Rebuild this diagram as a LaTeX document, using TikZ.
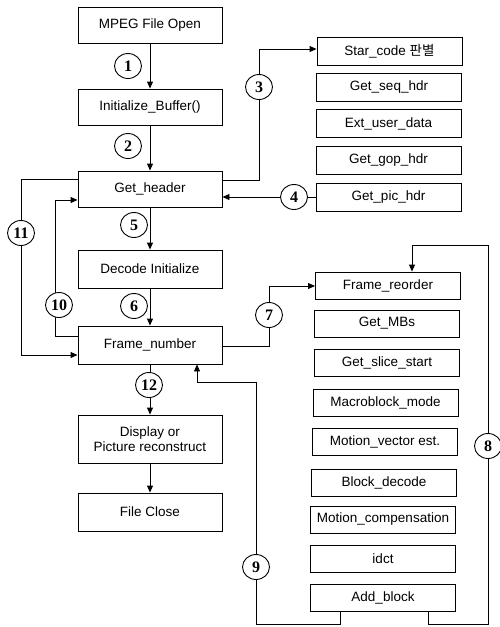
\documentclass[tikz,border=0pt]{standalone}
\usepackage{fontspec}
\setmainfont{Liberation Sans}
\newfontfamily\krfont{Noto Sans CJK KR}
\newfontfamily\numfont{Liberation Serif}
\usetikzlibrary{arrows.meta,shapes.geometric}
\begin{document}
\begin{tikzpicture}[x=1pt,y=-1pt,
  box/.style={draw,line width=0.9pt,minimum width=144pt,minimum height=36pt,inner sep=0pt,font=\fontsize{13.5}{15.5}\selectfont,align=center},
  sbox/.style={draw,line width=0.9pt,minimum width=145pt,minimum height=28pt,inner sep=0pt,font=\fontsize{13.5}{15.5}\selectfont},
  num/.style={draw,ellipse,fill=white,line width=0.9pt,minimum width=27pt,minimum height=25pt,inner sep=0pt,font=\numfont\bfseries\fontsize{16}{16}\selectfont},
  arr/.style={line width=0.9pt,-{Triangle[length=7pt,width=6pt]}}]
\useasboundingbox (0,0) rectangle (499,627);
% left column
\node[box] (open) at (150,25) {MPEG File Open};
\node[box] (init) at (150,107) {Initialize\_Buffer()};
\node[box] (hdr) at (150,189) {Get\_header};
\node[box,minimum height=38pt] (dinit) at (150,269) {Decode Initialize};
\node[box,minimum height=38pt] (fnum) at (150,345) {Frame\_number};
\node[box,minimum height=48pt] (disp) at (150,439) {Display or\\Picture reconstruct};
\node[box,minimum height=38pt] (close) at (150,512) {File Close};
% right group 1
\node[sbox] (star) at (389.5,51) {Star\_code {\krfont 판별}};
\node[sbox] (seq) at (389,87) {Get\_seq\_hdr};
\node[sbox] (ext) at (388.5,123.5) {Ext\_user\_data};
\node[sbox] (gop) at (388.5,160) {Get\_gop\_hdr};
\node[sbox] (pic) at (388.5,197) {Get\_pic\_hdr};
% right group 2
\node[sbox,minimum height=27pt] (reorder) at (388,285.5) {Frame\_reorder};
\node[sbox,minimum height=27pt] (mbs) at (387,323.5) {Get\_MBs};
\node[sbox,minimum height=27pt] (slice) at (387,363) {Get\_slice\_start};
\node[sbox,minimum height=27pt] (mbmode) at (385.5,402.5) {Macroblock\_mode};
\node[sbox,minimum height=27pt] (mv) at (385,441.5) {Motion\_vector est.};
\node[sbox,minimum height=27pt] (blk) at (384,482.5) {Block\_decode};
\node[sbox,minimum height=27pt] (mc) at (383,519.5) {Motion\_compensation};
\node[sbox,minimum height=27pt] (idct) at (383,558.5) {idct};
\node[sbox,minimum height=27pt] (add) at (383,598) {Add\_block};
% helper coordinates
\coordinate (c11a) at (21,179);
\coordinate (c11b) at (21,355);
\coordinate (c10a) at (55,336);
\coordinate (c10b) at (55,200);
\coordinate (c3a) at (259,180);
\coordinate (c3b) at (259,49);
\coordinate (c7a) at (269,346);
\coordinate (c7b) at (269,286);
\coordinate (c8a) at (428,624);
\coordinate (c8b) at (488,624);
\coordinate (c8c) at (488,245);
\coordinate (c8d) at (412,245);
\coordinate (c9a) at (340,624);
\coordinate (c9b) at (256,624);
\coordinate (c9c) at (256,382);
\coordinate (c9d) at (197,382);
% main flow
\draw[arr] (open) -- (init);
\draw[arr] (init) -- (hdr);
\draw[arr] (hdr) -- (dinit);
\draw[arr] (dinit) -- (fnum);
\draw[arr] (fnum) -- (disp);
\draw[arr] (disp) -- (close);
% loops
\draw[arr] (hdr.west |- c11a) -- (c11a) -- (c11b) -- (fnum.west |- c11b);
\draw[arr] (fnum.west |- c10a) -- (c10a) -- (c10b) -- (hdr.west |- c10b);
\draw[arr] (hdr.east |- c3a) -- (c3a) -- (c3b) -- (star.west |- c3b);
\draw[arr] (pic.west) -- (hdr.east |- pic.west);
\draw[arr] (fnum.east |- c7a) -- (c7a) -- (c7b) -- (reorder.west |- c7b);
\draw[arr] (add.south -| c8a) -- (c8a) -- (c8b) -- (c8c) -- (c8d) -- (reorder.north -| c8d);
\draw[arr] (add.south -| c9a) -- (c9a) -- (c9b) -- (c9c) -- (c9d) -- (fnum.south -| c9d);
% number labels
\node[num] (n1) at (128,66) {1};
\node[num] (n2) at (128,146) {2};
\node[num] (n3) at (259,87) {3};
\node[num] (n4) at (294,197) {4};
\node[num] (n5) at (134,225) {5};
\node[num] (n6) at (134,306) {6};
\node[num] (n7) at (269,315) {7};
\node[num] (n8) at (488,446) {8};
\node[num] (n9) at (256,567) {9};
\node[num] (n10) at (59,305) {10};
\node[num] (n11) at (21,233) {11};
\node[num] (n12) at (149,385) {12};
\end{tikzpicture}
\end{document}
